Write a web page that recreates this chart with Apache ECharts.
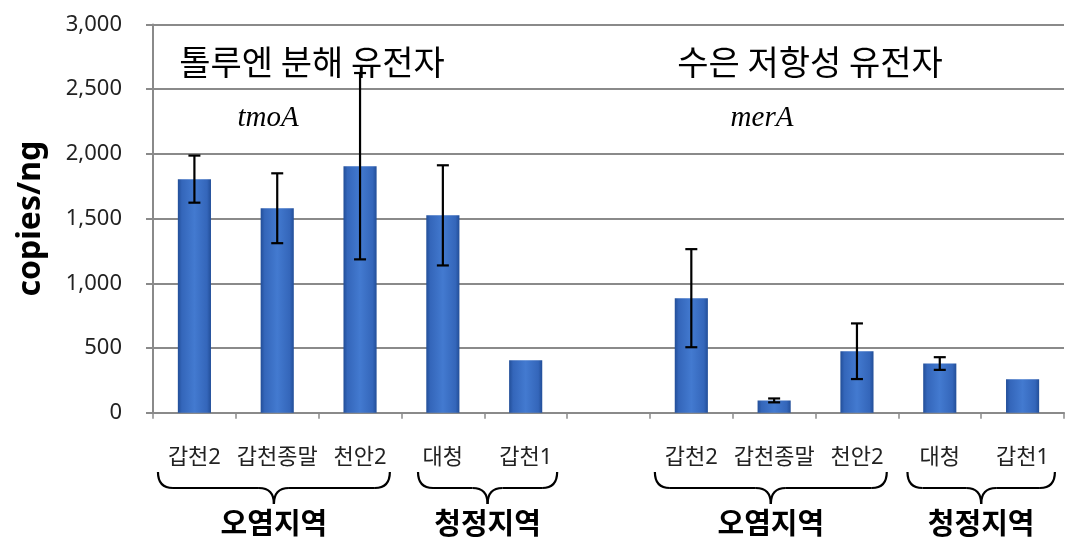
<!DOCTYPE html>
<html>
<head>
<meta charset="utf-8">
<script src="https://cdn.jsdelivr.net/npm/echarts@6/dist/echarts.min.js"></script>
<style>
html,body{margin:0;padding:0;background:#fff;}
#c{width:1076px;height:552px;}
</style>
</head>
<body>
<div id="c"></div>
<script>
var categories = ['갑천2','갑천종말','천안2','대청','갑천1','','갑천2','갑천종말','천안2','대청','갑천1'];
var values = [1805, 1580, 1905, 1525, 405, null, 885, 95, 475, 380, 258];
var errors = [182, 270, 720, 387, null, null, 379, 15, 215, 49, null];
var yTicks = [0, 500, 1000, 1500, 2000, 2500, 3000];
var groupLabels = ['오염지역','청정지역','오염지역','청정지역'];
var groupRanges = [[0,2],[3,4],[6,8],[9,10]];
var geneTitles = ['톨루엔 분해 유전자','수은 저항성 유전자'];
var geneNames = ['tmoA','merA'];

var errData = [];
values.forEach(function(v,i){
  if (v != null && errors[i] != null) errData.push([i, v - errors[i], v + errors[i]]);
});

var FONT = '"Noto Sans", "Noto Sans CJK KR", sans-serif';
var chart = echarts.init(document.getElementById('c'), null, {renderer:'canvas'});

var barColor = new echarts.graphic.LinearGradient(0,0,1,0,[
  {offset:0, color:'#224e98'},
  {offset:0.12, color:'#3466ba'},
  {offset:0.5, color:'#437ad0'},
  {offset:0.88, color:'#3466ba'},
  {offset:1, color:'#224e98'}
]);

chart.setOption({
  animation:false,
  grid:{left:153, right:12, top:24.5, bottom:139.3, containLabel:false},
  xAxis:{
    type:'category', data:categories, boundaryGap:true,
    axisLine:{lineStyle:{color:'#8a8a8a', width:2}},
    axisTick:{show:true, length:6, lineStyle:{color:'#8a8a8a', width:1.5}},
    axisLabel:{margin:34, fontSize:22, color:'#222', fontFamily:FONT, interval:0}
  },
  yAxis:{
    type:'value', min:0, max:3000, interval:500,
    name:'copies/ng', nameLocation:'middle', nameRotate:90, nameGap:106,
    nameTextStyle:{fontSize:32, fontWeight:'bold', color:'#000', fontFamily:FONT},
    axisLine:{show:true, lineStyle:{color:'#8a8a8a', width:2}},
    axisTick:{show:true, length:7, lineStyle:{color:'#8a8a8a', width:2}},
    splitLine:{show:true, lineStyle:{color:'#8a8a8a', width:2}},
    axisLabel:{margin:31, fontSize:22, color:'#222', fontFamily:FONT,
      formatter:function(v){return v.toLocaleString('en-US');}}
  },
  series:[
    {
      type:'bar', data:values, barWidth:'40%',
      itemStyle:{color:barColor, shadowColor:'rgba(0,0,0,0.35)', shadowBlur:3, shadowOffsetY:2},
      z:2
    },
    {
      type:'custom', data:errData, z:5,
      renderItem:function(params, api){
        var x = api.value(0);
        var lo = api.coord([x, api.value(1)]);
        var hi = api.coord([x, api.value(2)]);
        var hw = 6;
        var st = {stroke:'#000', lineWidth:2.2};
        return {type:'group', children:[
          {type:'line', shape:{x1:lo[0], y1:lo[1], x2:hi[0], y2:hi[1]}, style:st},
          {type:'line', shape:{x1:lo[0]-hw, y1:lo[1], x2:lo[0]+hw, y2:lo[1]}, style:st},
          {type:'line', shape:{x1:hi[0]-hw, y1:hi[1], x2:hi[0]+hw, y2:hi[1]}, style:st}
        ]};
      }
    }
  ]
});

function px(i){ return chart.convertToPixel({xAxisIndex:0}, i); }
var step = px(1) - px(0);
var g = [];
var TF = '"Noto Sans CJK KR", "Noto Sans", sans-serif';
g.push({type:'text', x:312, y:62, style:{text:geneTitles[0], font:'34px '+TF, fill:'#000', textAlign:'center', textVerticalAlign:'middle'}});
g.push({type:'text', x:810, y:62, style:{text:geneTitles[1], font:'34px '+TF, fill:'#000', textAlign:'center', textVerticalAlign:'middle'}});
g.push({type:'text', x:268, y:118, style:{text:geneNames[0], font:'italic 29px "Liberation Serif", "DejaVu Serif", serif', fill:'#000', textAlign:'center', textVerticalAlign:'middle'}});
g.push({type:'text', x:762, y:118, style:{text:geneNames[1], font:'italic 29px "Liberation Serif", "DejaVu Serif", serif', fill:'#000', textAlign:'center', textVerticalAlign:'middle'}});

var y0 = 472, y1 = 488, y2 = 504, r = 15;
var padL = [0.44, 0.30, 0.44, 0.39], padR = [0.36, 0.38, 0.36, 0.39];
var bst = {stroke:'#000', lineWidth:2.2, fill:null};
groupRanges.forEach(function(rg, k){
  var a = px(rg[0]) - step*padL[k];
  var b = px(rg[1]) + step*padR[k];
  var c = (a + b) / 2;
  g.push({type:'bezierCurve', shape:{x1:a, y1:y0, cpx1:a, cpy1:y1, x2:a+r, y2:y1}, style:bst});
  g.push({type:'line', shape:{x1:a+r, y1:y1, x2:c-r, y2:y1}, style:bst});
  g.push({type:'bezierCurve', shape:{x1:c-r, y1:y1, cpx1:c, cpy1:y1, x2:c, y2:y2}, style:bst});
  g.push({type:'bezierCurve', shape:{x1:c, y1:y2, cpx1:c, cpy1:y1, x2:c+r, y2:y1}, style:bst});
  g.push({type:'line', shape:{x1:c+r, y1:y1, x2:b-r, y2:y1}, style:bst});
  g.push({type:'bezierCurve', shape:{x1:b-r, y1:y1, cpx1:b, cpy1:y1, x2:b, y2:y0}, style:bst});
  g.push({type:'text', x:c, y:523, style:{text:groupLabels[k], font:'bold 29px '+TF, fill:'#000', textAlign:'center', textVerticalAlign:'middle'}});
});
chart.setOption({graphic:g});
</script>
</body>
</html>
